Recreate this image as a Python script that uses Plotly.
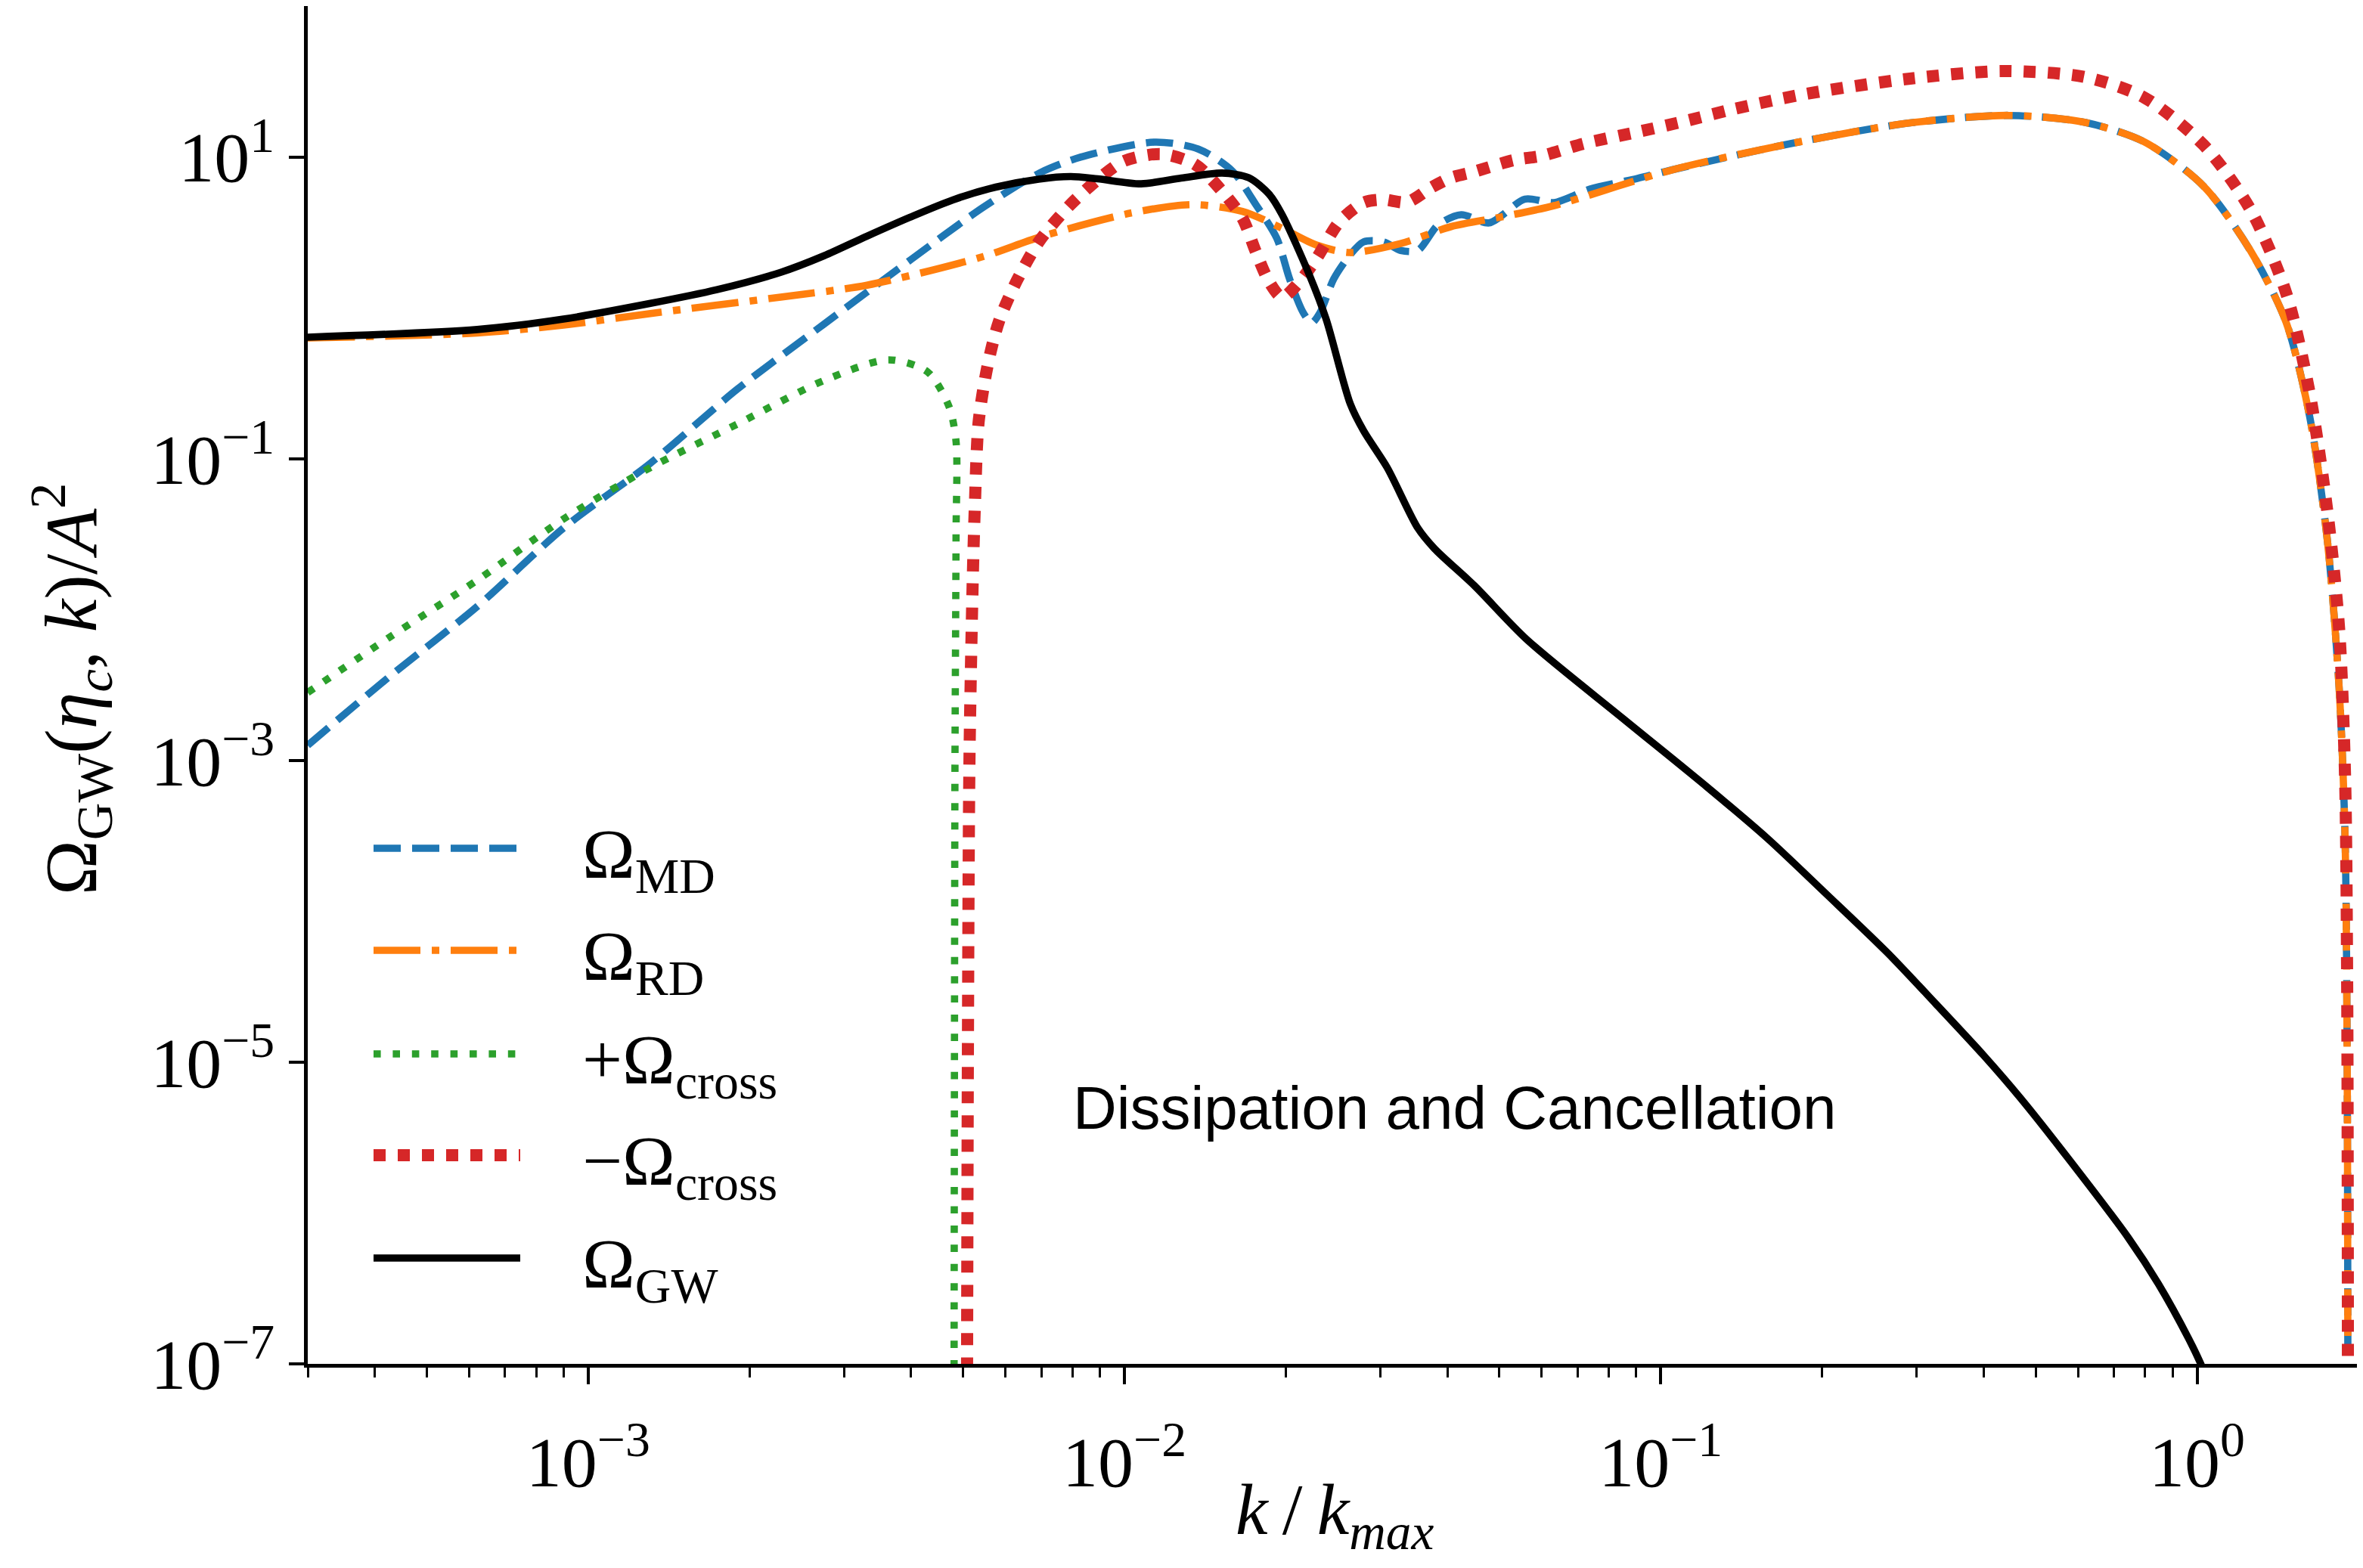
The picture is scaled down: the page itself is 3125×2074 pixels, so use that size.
import numpy as np
import plotly.graph_objects as go

# ---------------- data (log10 values) ----------------
md_log10k = [-3.523, -3.369, -3.207, -3.046, -2.884, -2.722, -2.561, -2.398, -2.263, -2.158,
             -2.082, -1.944, -1.862, -1.799, -1.755, -1.716, -1.692, -1.667, -1.651, -1.635,
             -1.61, -1.58, -1.554, -1.517, -1.485, -1.453, -1.415, -1.372, -1.32, -1.253,
             -1.199, -1.132, -1.044, -0.978, -0.758, -0.538, -0.351, -0.208, -0.098, 0.012,
             0.1, 0.166, 0.21, 0.243, 0.265, 0.276, 0.280, 0.2815]
md_log10omega = [-2.90, -2.44, -1.98, -1.46, -1.03, -0.54, -0.11, 0.32, 0.667, 0.894,
                 0.998, 1.098, 1.052, 0.907, 0.684, 0.461, 0.19, -0.03, -0.10, -0.03,
                 0.19, 0.348, 0.437, 0.437, 0.38, 0.38, 0.55, 0.617, 0.563, 0.72,
                 0.697, 0.787, 0.857, 0.915, 1.088, 1.224, 1.275, 1.228, 1.099, 0.807,
                 0.376, -0.095, -0.72, -1.54, -2.52, -3.5, -5.0, -8.0]

rd_log10k = [-3.523, -3.207, -3.046, -2.884, -2.641, -2.48, -2.263, -2.158, -1.988, -1.874,
             -1.780, -1.706, -1.642, -1.58, -1.485, -1.391, -1.3, -1.199, -0.978, -0.758,
             -0.538, -0.351, -0.208, -0.098, 0.012, 0.1, 0.166, 0.21, 0.243, 0.265,
             0.276, 0.280, 0.2815]
rd_log10omega = [-0.20, -0.167, -0.115, -0.038, 0.071, 0.150, 0.340, 0.469, 0.628, 0.684,
                 0.639, 0.527, 0.416, 0.366, 0.426, 0.538, 0.60, 0.677, 0.915, 1.088,
                 1.224, 1.275, 1.228, 1.099, 0.807, 0.376, -0.095, -0.72, -1.54, -2.52,
                 -3.5, -5.0, -8.0]

cross_pos_log10k = [-3.523, -3.369, -3.207, -3.046, -2.884, -2.722, -2.561, -2.44, -2.367, -2.327,
                    -2.314, -2.314, -2.316, -2.317, -2.318]
cross_pos_log10omega = [-2.55, -2.18, -1.806, -1.40, -1.059, -0.771, -0.483, -0.345, -0.425, -0.656,
                        -0.886, -1.5, -3.0, -5.0, -8.0]

cross_neg_log10k = [-2.294, -2.292, -2.289, -2.283, -2.279, -2.272, -2.255, -2.234, -2.201, -2.158,
                    -2.104, -2.05, -2.0, -1.931, -1.869, -1.818, -1.780, -1.755, -1.730, -1.706,
                    -1.674, -1.642, -1.599, -1.554, -1.517, -1.473, -1.428, -1.391, -1.348, -1.275,
                    -1.22, -1.144, -1.044, -0.956, -0.868, -0.737, -0.538, -0.362, -0.208, -0.098,
                    0.012, 0.1, 0.166, 0.21, 0.243, 0.265, 0.276, 0.280, 0.2815]
cross_neg_log10omega = [-8.0, -5.0, -3.0, -1.82, -1.32, -0.76, -0.38, -0.09, 0.178, 0.446,
                        0.672, 0.849, 0.974, 1.019, 0.952, 0.773, 0.594, 0.371, 0.171, 0.07,
                        0.171, 0.326, 0.571, 0.697, 0.717, 0.70, 0.797, 0.862, 0.902, 0.978,
                        1.009, 1.088, 1.165, 1.236, 1.314, 1.413, 1.518, 1.569, 1.529, 1.393,
                        1.08, 0.649, 0.1, -0.566, -1.35, -2.13, -3.1, -4.5, -8.0]

gw_log10k = [-3.523, -3.207, -3.046, -2.884, -2.76, -2.641, -2.56, -2.48, -2.40, -2.32,
             -2.24, -2.16, -2.10, -2.05, -1.969, -1.894, -1.818, -1.768, -1.73, -1.706,
             -1.655, -1.624, -1.579, -1.554, -1.51, -1.453, -1.422, -1.348, -1.25, -1.072,
             -0.914, -0.801, -0.690, -0.577, -0.487, -0.398, -0.330, -0.241, -0.128, -0.072,
             -0.016, 0.007, 0.03]
gw_log10omega = [-0.195, -0.144, -0.075, 0.029, 0.12, 0.235, 0.345, 0.475, 0.60, 0.715,
                 0.80, 0.853, 0.870, 0.855, 0.822, 0.860, 0.893, 0.862, 0.752, 0.617,
                 0.216, -0.075, -0.636, -0.816, -1.06, -1.46, -1.596, -1.84, -2.198, -2.718,
                 -3.175, -3.517, -3.89, -4.276, -4.614, -4.955, -5.235, -5.634, -6.165, -6.47,
                 -6.83, -7.0, -7.2]

x_tick_vals = [1e-3, 1e-2, 1e-1, 1e0]
x_tick_text = ["10<sup>−3</sup>", "10<sup>−2</sup>", "10<sup>−1</sup>", "10<sup>0</sup>"]
y_tick_vals = [1e1, 1e-1, 1e-3, 1e-5, 1e-7]
y_tick_text = ["10<sup>1</sup>", "10<sup>−1</sup>", "10<sup>−3</sup>", "10<sup>−5</sup>", "10<sup>−7</sup>"]

series_names = ["Ω<sub>MD</sub>", "Ω<sub>RD</sub>", "+Ω<sub>cross</sub>", "−Ω<sub>cross</sub>", "Ω<sub>GW</sub>"]
annotation_text = "Dissipation and Cancellation"
x_title = "<i>k</i>\u2009/\u2009<i>k</i><sub><i>max</i></sub>"
y_title = "Ω<sub>GW</sub>(<i>η</i><sub><i>c</i></sub>, <i>k</i>)/<i>A</i><sup>2</sup>"

# ---------------- styling ----------------
# the page body has an 8px margin: figure placed at (8, 8) in the window
OFF = 8
W, H = 3125 - OFF, 2074 - OFF
PLOT_LEFT, PLOT_RIGHT, PLOT_TOP, PLOT_BOTTOM = 407, 3119, 8, 1804   # window pixels
L = PLOT_LEFT - OFF
R = W - (PLOT_RIGHT - OFF)
T = PLOT_TOP - OFF
B = H - (PLOT_BOTTOM - OFF)
PW, PH = W - L - R, H - T - B
SERIF = "Liberation Serif, DejaVu Serif, serif"
SANS = "Liberation Sans, Arial, Helvetica, sans-serif"
FS = 94

styles = [
    dict(color="#1f77b4", width=9.6, dash="36px,15px"),
    dict(color="#ff7f0e", width=9.6, dash="62px,15px,10px,15px"),
    dict(color="#2ca02c", width=9.6, dash="9.6px,15.8px"),
    dict(color="#d62728", width=16, dash="16px,16px"),
    dict(color="#000000", width=9.6, dash="solid"),
]

series = [
    (md_log10k, md_log10omega),
    (rd_log10k, rd_log10omega),
    (cross_pos_log10k, cross_pos_log10omega),
    (cross_neg_log10k, cross_neg_log10omega),
    (gw_log10k, gw_log10omega),
]

fig = go.Figure()
for (lk, lo), st, name in zip(series, styles, series_names):
    fig.add_trace(go.Scatter(
        x=np.power(10.0, lk), y=np.power(10.0, lo), mode="lines", name=name,
        line=dict(color=st["color"], width=st["width"], dash=st["dash"],
                  shape="spline", smoothing=0.8),
        showlegend=False, hoverinfo="skip"))

# minor x ticks
minor_vals = []
for e in range(-4, 1):
    for m in range(2, 10):
        v = m * 10.0 ** e
        if 2.9e-4 <= v <= 2.01:
            minor_vals.append(v)

fig.update_layout(
    width=W, height=H,
    margin=dict(l=L, r=R, t=T, b=B, autoexpand=False),
    paper_bgcolor="white", plot_bgcolor="white",
    showlegend=False,
    font=dict(family=SERIF, size=FS, color="black"),
    xaxis=dict(
        type="log", range=[np.log10(3e-4), np.log10(2.0)],
        showgrid=False, zeroline=False,
        showline=True, linecolor="black", linewidth=5, mirror=True,
        ticks="outside", ticklen=22, tickwidth=4, tickcolor="black",
        tickmode="array", tickvals=x_tick_vals, ticktext=x_tick_text,
        ticklabelstandoff=22,
        tickfont=dict(family=SERIF, size=FS, color="black"),
        minor=dict(ticks="outside", ticklen=13, tickwidth=3, tickcolor="black",
                   tickmode="array", tickvals=minor_vals, showgrid=False),
    ),
    yaxis=dict(
        type="log", range=[-7, 2],
        showgrid=False, zeroline=False,
        showline=True, linecolor="black", linewidth=5, mirror=True,
        ticks="outside", ticklen=20, tickwidth=4, tickcolor="black",
        tickmode="array", tickvals=y_tick_vals, ticktext=y_tick_text,
        tickfont=dict(family=SERIF, size=FS, color="black"),
    ),
)

def px_x(X):
    """window pixel -> paper x"""
    return (X - OFF - L) / PW

def px_y(Y):
    """window pixel -> paper y"""
    return (H - B - (Y - OFF)) / PH

# axis titles
fig.add_annotation(text=x_title, xref="paper", yref="paper",
                   x=px_x(1765), y=px_y(2003), xanchor="center", yanchor="middle",
                   showarrow=False, font=dict(family=SERIF, size=96, color="black"))
fig.add_annotation(text=y_title,
                   xref="paper", yref="paper", x=px_x(94), y=px_y(912), textangle=-90,
                   xanchor="center", yanchor="middle", showarrow=False,
                   font=dict(family=SERIF, size=98, color="black"))

# text annotation
fig.add_annotation(text=annotation_text, xref="paper", yref="paper",
                   x=px_x(1417), y=px_y(1465), xanchor="left", yanchor="middle",
                   showarrow=False, font=dict(family=SANS, size=80, color="black"))

# manual legend
legend_rows = [1122, 1257, 1394, 1528, 1664]
for Yrow, st, name in zip(legend_rows, styles, series_names):
    fig.add_shape(type="line", xref="paper", yref="paper",
                  x0=px_x(494), x1=px_x(688), y0=px_y(Yrow), y1=px_y(Yrow),
                  line=dict(color=st["color"], width=st["width"], dash=st["dash"]))
    fig.add_annotation(text=name, xref="paper", yref="paper",
                       x=px_x(768), y=px_y(Yrow + 14), xanchor="left", yanchor="middle",
                       showarrow=False, font=dict(family=SERIF, size=FS, color="black"))

fig.write_html("out.html")
